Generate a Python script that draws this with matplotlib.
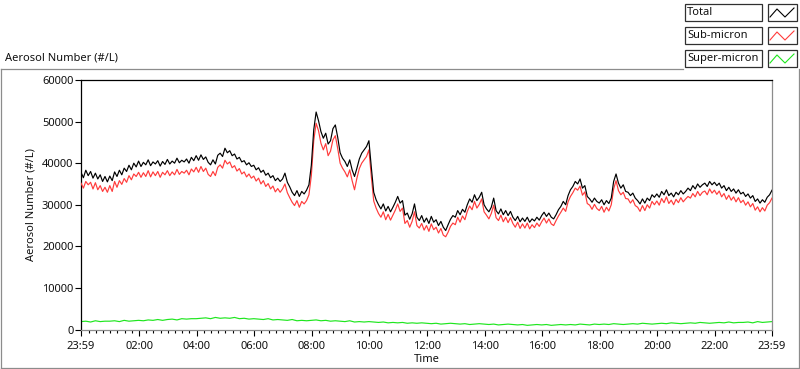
import numpy as np
import matplotlib
matplotlib.use("Agg")
import matplotlib.pyplot as plt
from matplotlib.lines import Line2D
from matplotlib.patches import Rectangle

plt.rcParams['font.family'] = ['Noto Sans', 'DejaVu Sans']

# ---------------- data (thousands of particles per litre) ----------------
# Total / Sub-micron sampled every 5 min starting at 23:59
total_k = [
    37.8, 36.5, 38.3, 37.0, 38.0, 36.4, 37.6, 36.2, 37.2, 35.6, 36.8, 35.5,
    36.9, 35.8, 37.9, 36.8, 38.3, 37.2, 38.8, 38.0, 39.5, 38.4, 40.0, 39.1,
    40.5, 39.2, 40.2, 39.6, 40.8, 39.4, 40.3, 39.8, 40.6, 39.3, 40.4, 39.7,
    40.9, 39.8, 40.5, 40.0, 41.2, 40.1, 40.7, 40.3, 41.0, 40.0, 41.4, 40.6,
    41.8, 40.7, 42.0, 40.9, 41.5, 40.2, 39.6, 40.8, 39.8, 41.9, 42.4, 41.6,
    43.6, 42.5, 43.0, 41.8, 42.2, 41.0, 41.4, 40.3, 40.6, 39.6, 40.1, 39.2,
    39.5, 38.4, 38.9, 37.8, 38.3, 37.1, 37.6, 36.5, 37.0, 35.8, 36.4, 35.6,
    36.2, 37.6, 35.4, 34.3, 33.0, 32.2, 33.4, 32.0, 33.2, 32.6, 33.5, 34.8,
    39.5, 48.0, 52.3, 50.2, 47.6, 46.0, 47.2, 44.6, 45.4, 48.3, 49.2, 46.2,
    42.5, 41.2, 40.4, 39.2, 40.8, 38.4, 36.8, 38.8, 41.0, 42.4, 43.2, 44.0,
    45.4, 39.0, 33.0, 31.2, 30.0, 29.0, 30.2, 28.5, 29.6, 28.3, 29.4, 30.6,
    32.0, 30.4, 31.0, 27.5, 28.0, 26.5, 27.8, 30.2, 27.0, 26.2, 27.4, 25.8,
    26.8, 25.5, 27.2, 25.8, 26.4, 25.0, 26.0, 24.6, 23.8, 25.2, 26.5, 27.4,
    27.0, 28.6, 27.6, 28.9, 28.2, 30.0, 31.4, 30.6, 32.4, 31.0, 31.8, 33.0,
    30.0, 29.0, 28.3, 29.4, 31.6, 28.6, 27.8, 29.0, 27.6, 28.6, 27.4, 28.4,
    27.0, 26.2, 27.2, 25.9, 26.8, 26.0, 27.0, 25.8, 26.6, 26.1, 27.0, 26.3,
    27.4, 28.2, 27.2, 28.0, 27.0, 26.6, 27.6, 28.8, 29.6, 30.8, 30.0, 32.2,
    33.6, 34.4, 35.6, 35.0, 36.2, 34.0, 34.6, 32.0, 31.4, 30.6, 31.6, 30.8,
    30.4, 31.2, 30.0, 31.0, 30.3, 31.6, 35.6, 37.4, 35.2, 34.0, 34.8, 33.2,
    33.0, 32.2, 32.8, 31.6, 31.0, 30.2, 31.4, 30.4, 31.6, 31.0, 32.4, 31.8,
    32.6, 31.8, 33.2, 32.4, 33.6, 32.2, 32.8, 31.9, 33.0, 32.4, 33.4, 32.6,
    33.2, 34.0, 33.4, 34.6, 33.8, 35.0, 34.2, 34.8, 35.2, 34.4, 35.6, 34.8,
    35.4, 34.6, 35.2, 34.0, 34.6, 33.4, 34.2, 33.2, 33.8, 32.8, 33.6, 32.6,
    33.0, 32.0, 32.6, 31.6, 32.2, 30.8, 31.4, 30.4, 31.2, 30.6, 31.8, 32.4,
    33.5,
]
sub_k = [
    35.2, 34.0, 35.6, 34.8, 35.4, 33.8, 35.3, 33.6, 34.6, 33.2, 34.2, 33.0,
    34.6, 33.2, 35.6, 34.2, 35.8, 34.9, 36.3, 35.4, 37.0, 36.0, 37.4, 36.8,
    37.8, 36.6, 37.7, 36.8, 38.2, 36.7, 37.9, 37.0, 38.0, 36.6, 37.8, 37.2,
    38.2, 37.0, 37.9, 37.2, 38.5, 37.3, 38.0, 37.6, 38.3, 37.2, 38.6, 37.9,
    39.0, 37.8, 39.2, 38.0, 38.8, 37.3, 36.8, 38.0, 37.0, 39.0, 39.6, 38.8,
    40.7, 39.8, 40.3, 38.9, 39.4, 38.1, 38.7, 37.4, 37.9, 36.7, 37.4, 36.4,
    36.9, 35.7, 36.4, 35.0, 35.8, 34.4, 35.1, 33.8, 34.5, 33.1, 33.9, 33.0,
    33.8, 35.0, 32.9, 31.7, 30.6, 29.8, 31.0, 29.4, 30.8, 30.2, 31.0, 32.4,
    37.0, 45.4, 49.6, 47.8, 44.8, 43.2, 44.7, 41.8, 42.9, 45.6, 46.6, 43.5,
    40.0, 38.8, 37.9, 36.7, 38.4, 35.8, 33.6, 36.4, 38.7, 40.0, 40.8, 41.6,
    43.2, 36.8, 30.9, 29.2, 27.9, 27.0, 28.3, 26.4, 27.7, 26.3, 27.5, 28.7,
    30.2, 28.4, 29.2, 25.5, 26.2, 24.6, 26.0, 28.3, 25.0, 24.4, 25.5, 23.9,
    25.0, 23.6, 25.4, 24.0, 24.6, 23.2, 24.3, 22.7, 22.3, 23.4, 24.8, 25.6,
    25.2, 27.0, 25.8, 27.3, 26.4, 28.4, 29.7, 28.8, 30.8, 29.2, 30.1, 31.4,
    28.3, 27.5, 26.6, 27.9, 29.9, 26.9, 26.2, 27.5, 25.9, 27.0, 25.7, 26.9,
    25.5, 24.6, 25.8, 24.3, 25.4, 24.4, 25.6, 24.2, 25.2, 24.5, 25.6, 24.8,
    25.9, 26.8, 25.6, 26.6, 25.4, 25.0, 26.2, 27.3, 28.2, 29.2, 28.4, 30.7,
    32.0, 32.9, 34.0, 33.5, 34.5, 32.3, 33.1, 30.3, 29.9, 28.9, 30.1, 29.1,
    28.6, 29.6, 28.2, 29.4, 28.5, 30.0, 33.8, 35.8, 33.4, 32.4, 33.0, 31.5,
    31.4, 30.4, 31.2, 29.8, 29.4, 28.4, 29.8, 28.6, 30.0, 29.2, 30.8, 30.0,
    30.9, 29.9, 31.5, 30.5, 31.9, 30.3, 31.1, 30.0, 31.3, 30.5, 31.7, 30.7,
    31.4, 32.0, 31.6, 32.7, 31.9, 33.2, 32.2, 33.0, 33.3, 32.4, 33.8, 32.8,
    33.5, 32.5, 33.3, 31.9, 32.7, 31.3, 32.3, 31.1, 31.9, 30.7, 31.7, 30.5,
    31.1, 29.9, 30.7, 29.5, 30.3, 28.7, 29.5, 28.3, 29.3, 28.5, 29.9, 30.5,
    31.6,
]
# Super-micron sampled every 10 min starting at 23:59
super_k = [
    1.9, 2.0, 1.8, 2.1, 1.9, 2.0,
    2.0, 2.1, 1.9, 2.2, 2.0, 2.1,
    2.2, 2.1, 2.3, 2.2, 2.4, 2.2,
    2.4, 2.5, 2.3, 2.6, 2.5, 2.6,
    2.6, 2.7, 2.8, 2.6, 2.9, 2.7,
    2.8, 2.7, 2.9, 2.6, 2.7, 2.5,
    2.6, 2.5, 2.4, 2.6, 2.3, 2.4,
    2.3, 2.2, 2.4, 2.1, 2.2, 2.1,
    2.2, 2.3, 2.1, 2.2, 2.0, 2.1,
    2.0, 1.9, 2.1, 1.8, 1.9, 1.8,
    1.9, 1.8, 1.7, 1.8, 1.6, 1.7,
    1.6, 1.7, 1.5, 1.6, 1.5, 1.6,
    1.5, 1.4, 1.5, 1.3, 1.4, 1.5,
    1.4, 1.3, 1.4, 1.2, 1.3, 1.4,
    1.3, 1.2, 1.3, 1.1, 1.2, 1.3,
    1.2, 1.1, 1.2, 1.0, 1.1, 1.2,
    1.1, 1.2, 1.0, 1.1, 1.2, 1.1,
    1.2, 1.1, 1.3, 1.2, 1.1, 1.3,
    1.2, 1.3, 1.2, 1.4, 1.3, 1.2,
    1.3, 1.4, 1.3, 1.5, 1.4, 1.3,
    1.4, 1.5, 1.4, 1.6, 1.5, 1.4,
    1.5, 1.6, 1.5, 1.7, 1.6, 1.5,
    1.6, 1.7, 1.6, 1.8, 1.6, 1.7,
    1.7, 1.8, 1.6, 1.9, 1.7, 1.8,
    1.9,
]
series_names = ["Total", "Sub-micron", "Super-micron"]
tick_hours = [2, 4, 6, 8, 10, 12, 14, 16, 18, 20, 22]
tick_labels = ["02:00", "04:00", "06:00", "08:00", "10:00", "12:00",
               "14:00", "16:00", "18:00", "20:00", "22:00"]
y_ticks = [0, 10000, 20000, 30000, 40000, 50000, 60000]

start = -1 / 60.0  # 23:59 of the previous day
t5 = start + np.arange(len(total_k)) * 5 / 60.0
t10 = start + np.arange(len(super_k)) * 10 / 60.0
total = np.array(total_k) * 1000
sub = np.array(sub_k) * 1000
sup = np.array(super_k) * 1000

colors = ["#000000", "#ff3b3b", "#1ee61e"]
txt_col = "#111111"
gray = "#8c8c8c"
fs = 8.0

W, H = 800, 369
fig = plt.figure(figsize=(W / 100, H / 100), dpi=100)
ax = fig.add_axes([81 / W, 1 - 329.5 / H, (772 - 81) / W, (329.5 - 80) / H])

ax.plot(t10, sup, color=colors[2], lw=0.85, zorder=2)
ax.plot(t5, sub, color=colors[1], lw=0.85, zorder=3)
ax.plot(t5, total, color=colors[0], lw=0.85, zorder=4)

ax.set_xlim(start, 24 + start)
ax.set_ylim(0, 60000)
ax.set_yticks(y_ticks)
ax.set_yticklabels([str(v) for v in y_ticks])
ax.set_xticks([start] + tick_hours + [24 + start])
ax.set_xticklabels(["23:59"] + tick_labels + ["23:59"])
ax.set_xticks(np.arange(0.25, 24, 0.25), minor=True)
ax.tick_params(axis='y', which='major', direction='out', length=4,
               width=0.8, color='black', labelsize=fs, labelcolor=txt_col, pad=1.5)
ax.tick_params(axis='x', which='major', direction='out', length=4.5,
               width=0.8, color='black', labelsize=fs, labelcolor=txt_col, pad=3.5)
ax.tick_params(axis='x', which='minor', direction='out', length=2.5,
               width=0.8, color='black')
ax.set_xlabel("Time", fontsize=fs, color=txt_col, labelpad=2)
ax.set_ylabel("Aerosol Number (#/L)", fontsize=fs, color=txt_col, labelpad=4)
for s in ['top', 'left']:
    ax.spines[s].set_color('black')
    ax.spines[s].set_linewidth(0.9)
for s in ['right', 'bottom']:
    ax.spines[s].set_color(gray)
    ax.spines[s].set_linewidth(0.9)

# title
fig.text(5 / W, 1 - 58 / H, "Aerosol Number (#/L)", fontsize=fs, color=txt_col,
         ha='left', va='center')

# outer frame
def fline(x0, y0, x1, y1, c=gray, lw=0.9):
    fig.add_artist(Line2D([x0 / W, x1 / W], [1 - y0 / H, 1 - y1 / H], color=c, lw=lw))

fline(1, 69, 683, 69)
fline(1, 69, 1, 367.5)
fline(1, 367.5, 798.5, 367.5)
fline(798.5, 69, 798.5, 367.5)

# legend
rows_y = [4, 27, 50]
for name, col, y0 in zip(series_names, colors, rows_y):
    fig.add_artist(Rectangle((684.5 / W, 1 - (y0 + 16.5) / H), 77 / W, 16.5 / H,
                             transform=fig.transFigure, facecolor='white',
                             edgecolor='#303030', lw=0.9))
    fig.text(687 / W, 1 - (y0 + 8.5) / H, name, fontsize=fs, color=txt_col,
             ha='left', va='center')
    fig.add_artist(Rectangle((767.5 / W, 1 - (y0 + 17) / H), 29 / W, 17 / H,
                             transform=fig.transFigure, facecolor='white',
                             edgecolor='#303030', lw=0.9))
    xs = np.array([770, 777, 785, 794]) / W
    ys = 1 - (y0 + np.array([13, 5, 13, 4])) / H
    fig.add_artist(Line2D(xs, ys, color=col, lw=0.8))

fig.savefig("out.png", dpi=100)
